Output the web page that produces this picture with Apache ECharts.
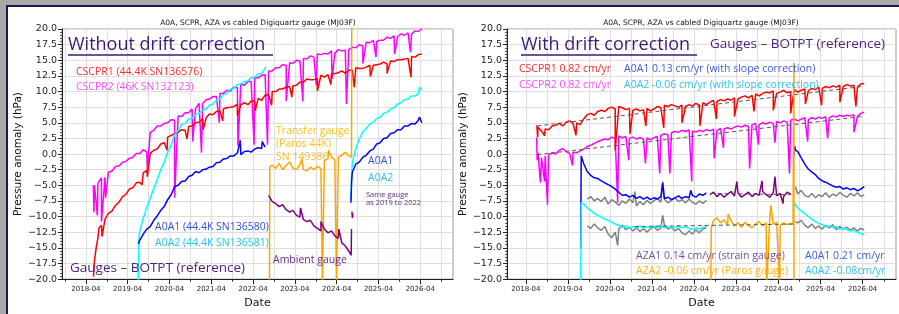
<!DOCTYPE html>
<html>
<head>
<meta charset="utf-8">
<script src="https://cdn.jsdelivr.net/npm/echarts@6/dist/echarts.min.js"></script>
<style>
html,body{margin:0;padding:0;width:899px;height:314px;overflow:hidden;background:#a9a9a9;}
#frame{position:absolute;left:6px;top:5px;right:0;bottom:0;background:#fff;border-left:2px solid #251552;border-top:2px solid #251552;}
#chart{position:absolute;left:0;top:0;width:899px;height:314px;}
</style>
</head>
<body>
<div id="frame"></div>
<div id="chart"></div>
<script>
// ---- tick labels ----
var majorTicks = ['2018-04','2019-04','2020-04','2021-04','2022-04','2023-04','2024-04','2025-04','2026-04'];
var minorTicks = ['2017-10','2018-10','2019-10','2020-10','2021-10','2022-10','2023-10','2024-10','2025-10','2026-10'];

// ---- left panel: without drift correction (monthly values, start month given) ----
var redL_start = '2018-06';
var redL = [-17.0,-13.4,-11.4,-10.4,-9.5,-9.1,-8.2,
  -7.7,-6.8,-6.5,-5.6,-5.4,-4.6,-4.5,-3.0,-2.6,0.1,0.6,0.8,
  1.6,1.8,2.7,3.0,3.2,3.5,3.9,3.8,4.4,4.5,5.0,5.1,
  5.7,5.8,6.4,6.3,6.8,6.9,7.2,7.4,7.5,7.6,8.0,7.9,
  8.2,7.9,8.5,8.5,8.9,8.6,9.4,9.5,10.0,10.0,10.4,10.4,
  10.7,10.8,10.9,11.0,11.5,11.5,12.0,11.9,11.9,12.1,12.6,12.3,
  12.7,12.8,12.9,13.0,13.3,12.9,13.4,13.4,13.8,13.7,13.7,13.9,
  14.2,14.2,14.3,14.4,14.7,14.4,14.9,14.8,15.1,15.1,15.2,15.3,
  15.6,15.5,15.9,16.0];
var redL_spikes = [['2018-06-06',-19.6],['2018-07-01',-14.8],['2018-07-25',-11.8],['2018-08-20',-13.2],
  ['2019-08-05',-4.9],['2019-09-20',-3.6],['2020-03-10',0.6],['2020-09-01',2.4],['2021-01-20',3.9],
  ['2021-07-10',5.3],['2021-11-15',6.1],['2022-04-20',6.9],['2022-09-10',7.8],['2023-03-05',9.1],
  ['2023-10-15',10.1],['2024-02-10',11.1],['2024-09-01',10.7],['2025-01-20',12.4],['2025-06-15',12.9],
  ['2026-01-10',12.3]];

var magL_start = '2018-06';
var magL = [-5.0,-4.6,-3.8,-3.7,-2.9,-2.7,-2.0,
  -1.9,-1.3,-1.2,-0.7,-0.5,0.1,0.1,0.7,0.3,3.5,3.8,4.5,
  4.5,4.9,5.0,5.5,5.4,6.1,6.0,6.6,6.6,7.2,7.3,8.1,
  8.1,8.7,8.8,9.2,9.2,9.7,9.7,10.2,10.1,10.7,10.6,11.2,
  11.0,11.6,11.6,12.2,12.2,12.6,12.7,13.3,13.3,13.8,13.8,14.3,
  14.2,14.6,14.5,15.0,14.9,15.3,15.2,15.7,15.5,16.0,15.9,16.1,
  16.0,16.5,16.1,16.7,16.5,16.6,16.7,17.1,17.0,17.5,17.3,17.9,
  17.8,18.2,18.0,18.2,18.2,18.7,18.5,18.9,18.8,19.2,19.0,19.4,
  19.2,19.7,19.6,20.0];
var magL_spikes = [['2018-06-05',-5.0],['2018-06-10',-9.3],['2018-06-25',-5.2],['2018-07-10',-9.8],
  ['2018-08-15',-10.8],['2018-09-20',-7.0],['2019-09-20',-2.5],['2020-05-15',-7.0],['2020-10-20',2.0],
  ['2021-01-05',0.2],['2021-06-10',5.0],['2021-11-20',1.3],['2022-04-10',1.5],['2022-08-05',1.5],
  ['2023-01-15',8.5],['2023-06-10',8.4],['2023-10-05',11.0],['2024-02-20',12.0],['2024-06-25',8.0],
  ['2024-11-15',14.5],['2025-03-10',15.5],['2025-08-20',16.0],['2026-01-05',16.3]];

var blueL1_start = '2019-07';
var blueL1 = [-13.8,-12.8,-12.0,-11.6,-10.6,-9.9,
  -9.0,-8.4,-7.3,-6.5,-5.2,-5.0,-4.4,-4.3,-3.6,-3.4,-2.8,-3.0,
  -2.5,-2.4,-2.1,-2.0,-1.4,-1.3,-0.8,-0.7,-0.3,-0.3,0.2,-0.1,
  0.4,0.5,0.3,0.8,1.0,0.9,1.1];
var blueL1_spikes = [['2019-07-03',-14.4],['2020-04-01',-7.2],['2021-12-10',2.2],['2022-06-20',2.0]];
var blueL2_start = '2024-08';
var blueL2 = [-2.9,-1.6,-1.3,-0.5,-0.2,
  0.5,0.8,1.6,1.8,2.5,2.6,3.3,3.4,3.9,3.9,4.5,4.5,
  4.9,4.8,5.4,5.0];
var blueL2_spikes = [['2024-08-03',-7.8],['2024-08-09',-4.4],['2026-03-25',5.9]];

var cyanL1_start = '2019-07';
var cyanL1 = [-12.4,-10.3,-8.5,-7.1,-5.5,-4.1,
  -2.5,-1.3,0.3,1.4,3.1,3.8,4.7,4.9,5.6,5.7,6.4,6.5,
  7.0,7.2,7.8,8.0,8.6,8.8,9.5,9.7,10.4,10.5,11.1,11.2,
  11.6,11.7,12.2,12.3,12.8,12.9,13.7];
var cyanL1_spikes = [['2019-07-03',-20.5],['2019-07-06',-14.2],['2022-07-20',14.0]];
var cyanL2_start = '2024-08';
var cyanL2 = [-1.4,0.9,2.4,3.6,4.1,
  4.8,5.1,5.7,5.9,6.5,6.7,7.2,7.4,8.0,8.2,8.7,8.8,
  9.3,9.3,9.7,10.2];
var cyanL2_spikes = [['2024-08-03',-7.3],['2024-08-09',-3.6],['2026-03-25',10.7]];

var transferL_start = '2022-09';
var transferL = [-1.8,-2.3,-1.5,-2.5,
  -1.8,-1.3,-2.2,-2.5,-1.7,-2.4,-2.7,-2.1,-2.5,-2.0,-2.3,-1.0,
  -0.8,-0.5,-0.9,-0.5,-0.2,0.3,-0.3];
var transferL_spikes = [['2022-08-22',-21],['2022-08-25',-2.0],['2023-06-01',-0.8],['2023-11-28',-21],
  ['2024-01-20',0.6],['2024-03-30',-21],['2024-08-08',-0.5],['2024-08-10',21]];

var ambientL_start = '2022-08';
var ambientL = [-6.6,-7.6,-7.9,-8.4,-8.1,
  -8.9,-9.3,-9.0,-9.8,-10.1,-10.5,-10.8,-10.6,-11.5,-11.9,-12.3,-12.0,
  -12.6,-12.3,-13.1,-13.5,-14.2,-14.7,-15.5];
var ambientL_spikes = [['2023-05-20',-8.6],['2023-11-15',-10.8],['2024-04-20',-12.0],['2024-08-05',-16.2],['2024-08-08',-12.0]];
var sameGaugeL = [['2024-08-12',-9.2],['2024-08-16',-10.2],['2024-08-20',-9.5]];

// ---- right panel: with drift correction ----
var redR_start = '2018-07';
var redR = [4.3,3.7,4.0,3.9,4.5,4.6,
  4.9,4.5,5.1,5.3,4.9,5.0,4.7,5.6,6.3,6.5,6.2,6.8,
  7.0,6.8,7.3,7.5,7.2,7.6,7.4,7.1,7.3,7.0,7.2,6.9,
  7.1,7.3,6.9,7.2,7.6,7.4,7.8,7.6,7.9,7.7,7.5,7.8,
  7.6,7.9,7.7,8.1,7.8,8.2,7.9,8.3,8.6,8.4,8.7,8.5,
  8.8,8.6,9.0,8.8,9.1,9.3,9.0,9.4,9.6,9.3,9.7,9.9,
  9.8,10.1,9.7,9.9,10.2,9.8,10.0,10.3,9.9,10.2,10.4,10.1,
  10.5,10.3,10.7,10.5,10.8,10.6,10.9,10.7,11.0,10.8,11.1,10.9,
  11.0,10.7,11.2,11.3];
var redR_spikes = [['2018-07-05',4.6],['2018-07-12',2.7],['2018-09-10',2.9],['2019-06-10',3.0],
  ['2020-05-15',0.6],['2020-09-20',3.2],['2021-02-05',4.5],['2021-07-10',4.2],['2021-12-15',5.0],
  ['2022-05-20',4.5],['2022-10-10',5.6],['2023-03-15',6.0],['2023-09-01',6.8],['2024-02-15',7.0],
  ['2024-07-15',6.5],['2024-11-20',8.0],['2025-04-10',7.8],['2025-09-15',8.3],['2026-02-01',7.6]];

var magR_start = '2018-07';
var magR = [0.2,-0.6,-0.3,-0.1,0.2,0.0,
  0.6,0.9,0.4,0.1,0.3,0.2,0.5,0.8,1.2,1.4,1.7,2.0,
  2.2,2.4,2.3,2.7,2.5,2.9,2.6,2.8,2.5,2.7,2.4,2.6,
  2.4,2.6,2.3,2.6,2.8,3.0,3.2,3.1,3.4,3.6,3.5,3.8,
  3.6,3.9,3.7,3.5,3.8,3.6,3.9,3.7,4.0,3.8,4.1,4.0,
  4.2,4.0,4.3,4.5,4.3,4.6,4.4,4.7,4.9,4.7,5.0,4.8,
  5.1,4.9,5.2,5.0,5.3,5.1,5.4,5.6,5.3,5.6,5.8,5.5,
  5.8,5.6,5.9,5.7,6.0,5.8,6.1,5.9,6.2,6.0,6.2,6.1,
  6.3,6.0,6.5,6.7];
var magR_spikes = [['2018-07-03',2.7],['2018-07-08',-1.0],['2018-08-05',-4.6],['2018-09-10',-4.4],
  ['2018-10-05',-8.1],['2019-05-10',-1.8],['2020-06-05',-7.8],['2020-09-10',-1.0],['2021-02-01',-1.5],
  ['2021-06-05',-3.1],['2021-09-01',-3.1],['2022-03-10',-4.4],['2022-09-20',-0.7],['2022-12-10',1.0],
  ['2023-07-25',-2.3],['2023-10-10',1.5],['2024-03-01',1.8],['2024-07-05',-3.1],['2024-12-10',2.0],
  ['2025-06-01',2.5],['2026-01-15',3.5]];

var redTrend = [['2018-07-10',4.5],['2026-03-25',10.8]];
var magTrend = [['2018-07-10',-0.1],['2026-03-25',6.0]];
var aza1Trend = [['2022-08-20',-6.3],['2024-08-05',-6.5]];
var aza2Trend = [['2020-11-01',-11.6],['2024-08-05',-11.2]];

var blueR1_start = '2019-08';
var blueR1 = [-1.5,-2.8,-3.4,-3.8,-3.9,
  -4.3,-4.6,-4.9,-5.2,-5.6,-6.1,-6.6,-6.5,-6.9,-6.6,-7.1,-6.8,
  -7.2,-6.9,-7.3,-7.0,-7.2,-6.8,-7.1,-6.9,-7.3,-7.0,-6.7,-7.1,
  -6.8,-7.0,-6.6,-6.9,-6.4,-6.6,-6.2];
var blueR1_spikes = [['2019-07-20',-15.0],['2019-07-25',-0.3],['2021-07-01',-4.6],['2022-03-01',-5.8]];
var blueR2_start = '2024-09';
var blueR2 = [0.4,-0.6,-1.6,-2.4,
  -2.9,-3.3,-3.9,-4.3,-4.5,-4.8,-5.1,-5.3,-5.2,-5.6,-5.4,-5.7,
  -5.5,-5.9,-5.6,-5.2];
var blueR2_spikes = [['2024-08-08',-0.6],['2024-08-18',1.3],['2024-08-28',0.6]];

var cyanR1_start = '2019-08';
var cyanR1 = [-8.0,-8.6,-9.0,-9.5,-9.8,
  -10.1,-10.4,-10.6,-10.9,-11.2,-11.4,-11.7,-11.5,-11.9,-11.6,-11.8,-11.5,
  -11.9,-11.6,-11.8,-11.5,-11.7,-11.4,-11.8,-11.6,-11.9,-11.7,-11.5,-11.8,
  -11.6,-11.9,-12.1,-11.8,-12.0,-11.7,-11.6];
var cyanR1_spikes = [['2019-07-20',-20.5],['2019-07-25',-7.8]];
var cyanR2_start = '2024-09';
var cyanR2 = [-8.6,-9.1,-9.5,-10.0,
  -10.4,-10.8,-11.1,-11.3,-11.6,-11.5,-11.8,-11.6,-12.0,-11.8,-12.1,-12.3,
  -12.2,-12.5,-12.7,-12.9];
var cyanR2_spikes = [['2024-08-08',-9.0],['2024-08-18',-7.8],['2024-08-28',-8.2]];

var grayHiR1_start = '2019-09';
var grayHiR1 = [-7.2,-6.8,-7.5,-7.1,
  -7.6,-6.9,-8.0,-7.3,-7.7,-8.2,-7.5,-7.9,-7.2,-7.8,-8.3,-7.6,
  -8.1,-7.4,-7.9,-7.5,-7.1,-7.7,-7.2,-7.8,-7.4,-7.0,-7.6,-7.3,
  -7.8,-7.2,-7.7,-8.0,-7.5,-7.9,-7.4];
var grayHiR1_spikes = [['2020-11-01',-6.0],['2021-07-01',-4.4]];
var grayHiR2_start = '2024-09';
var grayHiR2 = [-6.4,-5.8,-6.6,-6.9,
  -6.3,-7.0,-6.5,-6.8,-6.2,-6.9,-6.4,-6.7,-6.1,-6.6,-6.9,-6.3,
  -6.7,-6.2,-6.8,-6.5];
var grayHiR2_spikes = [['2024-08-25',-5.2]];

var grayLoR1_start = '2019-09';
var grayLoR1 = [-11.5,-11.9,-11.2,-11.8,
  -12.2,-11.6,-12.8,-13.4,-12.5,-12.0,-11.4,-12.1,-11.7,-12.3,-11.8,-12.4,
  -11.9,-12.5,-12.0,-11.6,-12.2,-11.8,-11.3,-12.0,-11.7,-12.3,-11.9,-12.6,
  -12.9,-12.3,-12.8,-12.1,-12.6,-12.0,-11.8];
var grayLoR1_spikes = [['2020-06-05',-14.6],['2021-07-01',-9.8]];
var grayLoR2_start = '2024-09';
var grayLoR2 = [-11.0,-10.6,-11.4,-11.8,
  -11.2,-11.9,-11.5,-12.0,-11.4,-11.8,-11.3,-12.1,-11.6,-12.0,-11.7,-12.2,
  -11.8,-12.3,-11.9,-12.1];
var grayLoR2_spikes = [['2024-08-25',-10.8]];

var aza1R_start = '2022-08';
var aza1R = [-6.5,-6.1,-6.8,-6.3,-6.9,
  -6.4,-6.0,-6.7,-6.2,-6.9,-6.5,-6.1,-6.8,-6.3,-6.6,-6.0,-6.5,
  -6.9,-6.2,-6.7,-6.3,-6.8,-6.1,-6.4];
var aza1R_spikes = [['2023-04-05',-4.4],['2023-11-10',-4.3],['2024-03-01',-3.6],['2024-05-10',-7.9]];

var aza2R_start = '2022-09';
var aza2R = [-10.6,-10.2,-11.0,-10.5,
  -11.3,-10.7,-11.5,-11.0,-11.7,-10.9,-11.4,-11.8,-11.2,-10.8,-11.5,-11.0,
  -10.6,-11.2,-10.9,-11.4,-11.0,-11.3,-11.1];
var aza2R_spikes = [['2022-08-22',-21],['2022-08-26',-11.8],['2023-01-20',-9.6],['2023-12-20',-21],
  ['2024-01-25',-8.2],['2024-04-10',-21],['2024-08-05',-11.2],['2024-08-12',14.6],['2024-08-13',-21]];

// ---- helpers ----
function ts(s) {
  var p = s.split('-').map(Number);
  return Date.UTC(p[0], p[1] - 1, p[2] || 1);
}
function merge(start, vals, extra) {
  var p = start.split('-').map(Number);
  var out = vals.map(function (v, i) { return [Date.UTC(p[0], p[1] - 1 + i, 15), v]; });
  (extra || []).forEach(function (d) { out.push([ts(d[0]), d[1]]); });
  out.sort(function (a, b) { return a[0] - b[0]; });
  return out;
}
function join(a, b) {
  return a.concat([[(a[a.length - 1][0] + b[0][0]) / 2, null]], b);
}
function pad(n) { return n < 10 ? '0' + n : '' + n; }

var majorVals = majorTicks.map(ts);
var allVals = majorTicks.concat(minorTicks).map(ts).sort(function (a, b) { return a - b; });

var axisFont = 'DejaVu Sans';
var noteFont = 'Open Sans';

function xAxes(gi, min, max) {
  return [{
    type: 'value', gridIndex: gi, min: min, max: max,
    axisLine: { onZero: false, lineStyle: { color: '#222' } },
    axisTick: { customValues: allVals, length: 2.5, lineStyle: { color: '#222' } },
    axisLabel: {
      customValues: majorVals, fontSize: 7, fontFamily: axisFont, color: '#222', margin: 7,
      formatter: function (v) { var d = new Date(v); return d.getUTCFullYear() + '-' + pad(d.getUTCMonth() + 1); }
    },
    splitLine: { show: true, lineStyle: { color: '#dedede', width: 1 } },
    name: 'Date', nameLocation: 'middle', nameGap: 15,
    nameTextStyle: { fontSize: 11, fontFamily: axisFont, color: '#111' }
  }, {
    type: 'value', gridIndex: gi, min: min, max: max, position: 'bottom',
    axisLine: { show: false, onZero: false },
    axisTick: { customValues: majorVals, length: 5, lineStyle: { color: '#222' } },
    axisLabel: { show: false },
    splitLine: { show: false }
  }];
}
function yAxis(gi) {
  return {
    type: 'value', gridIndex: gi, min: -20, max: 20, interval: 2.5,
    axisLine: { show: true, onZero: false, lineStyle: { color: '#222' } },
    axisTick: { show: true, length: 4, lineStyle: { color: '#222' } },
    minorTick: { show: true, splitNumber: 5, length: 2, lineStyle: { color: '#555' } },
    axisLabel: {
      fontSize: 9.5, fontFamily: axisFont, color: '#222', margin: 5,
      formatter: function (v) { return (v < 0 ? '\u2212' : '') + Math.abs(v).toFixed(1); }
    },
    splitLine: { show: true, lineStyle: { color: '#dedede' } },
    name: 'Pressure anomaly (hPa)', nameLocation: 'middle', nameGap: 38,
    nameTextStyle: { fontSize: 10.5, fontFamily: axisFont, color: '#111' }
  };
}
function line(data, color, xi, yi, z, dashed) {
  return {
    type: 'line', xAxisIndex: xi, yAxisIndex: yi, data: data,
    showSymbol: false, symbol: 'none', connectNulls: false, silent: true, z: z || 2,
    lineStyle: { color: color, width: dashed ? 1 : 1.5, type: dashed ? [4, 3] : 'solid' },
    itemStyle: { color: color }
  };
}
function pts(list) { return list.map(function (d) { return [ts(d[0]), d[1]]; }); }

function txt(x, y, s, color, size, extra) {
  var st = { text: s, fill: color, fontSize: size, fontFamily: noteFont, verticalAlign: 'middle' };
  if (extra) for (var k in extra) st[k] = extra[k];
  return { type: 'text', x: x, y: y, z: 50, silent: true, style: st };
}
function uline(x1, x2, y, color) {
  return { type: 'line', z: 50, silent: true, shape: { x1: x1, y1: y, x2: x2, y2: y }, style: { stroke: color, lineWidth: 1.6 } };
}

var RED = '#ff0000', MAG = '#ff00ff', BLUE = '#0000ff', CYAN = '#00ffff',
    ORANGE = '#ffa500', PURPLE = '#800080', GRAY = '#808080', TREND = '#555555';

var chart = echarts.init(document.getElementById('chart'), null, { renderer: 'canvas' });
var option = {
  animation: false,
  backgroundColor: 'transparent',
  grid: [
    { left: 62, top: 29, width: 391, height: 253, show: true, borderColor: '#9a9a9a', borderWidth: 1 },
    { left: 507, top: 29, width: 389, height: 253, show: true, borderColor: '#9a9a9a', borderWidth: 1 }
  ],
  xAxis: xAxes(0, Date.UTC(2017, 8, 4), Date.UTC(2027, 0, 12))
    .concat(xAxes(1, Date.UTC(2017, 9, 19), Date.UTC(2027, 0, 15))),
  yAxis: [yAxis(0), yAxis(1)],
  series: [
    // left
    line(merge(magL_start, magL, magL_spikes), MAG, 0, 0, 2),
    line(merge(redL_start, redL, redL_spikes), RED, 0, 0, 3),
    line(join(merge(cyanL1_start, cyanL1, cyanL1_spikes), merge(cyanL2_start, cyanL2, cyanL2_spikes)), CYAN, 0, 0, 4),
    line(join(merge(blueL1_start, blueL1, blueL1_spikes), merge(blueL2_start, blueL2, blueL2_spikes)), BLUE, 0, 0, 5),
    line(merge(transferL_start, transferL, transferL_spikes), ORANGE, 0, 0, 6),
    line(merge(ambientL_start, ambientL, ambientL_spikes), PURPLE, 0, 0, 7),
    line(pts(sameGaugeL), PURPLE, 0, 0, 7),
    // right
    line(merge(magR_start, magR, magR_spikes), MAG, 2, 1, 2),
    line(merge(redR_start, redR, redR_spikes), RED, 2, 1, 3),
    line(join(merge(grayHiR1_start, grayHiR1, grayHiR1_spikes), merge(grayHiR2_start, grayHiR2, grayHiR2_spikes)), GRAY, 2, 1, 4),
    line(join(merge(grayLoR1_start, grayLoR1, grayLoR1_spikes), merge(grayLoR2_start, grayLoR2, grayLoR2_spikes)), GRAY, 2, 1, 4),
    line(join(merge(blueR1_start, blueR1, blueR1_spikes), merge(blueR2_start, blueR2, blueR2_spikes)), BLUE, 2, 1, 5),
    line(join(merge(cyanR1_start, cyanR1, cyanR1_spikes), merge(cyanR2_start, cyanR2, cyanR2_spikes)), CYAN, 2, 1, 5),
    line(merge(aza1R_start, aza1R, aza1R_spikes), PURPLE, 2, 1, 6),
    line(merge(aza2R_start, aza2R, aza2R_spikes), ORANGE, 2, 1, 6),
    line(pts(redTrend), TREND, 2, 1, 8, true),
    line(pts(magTrend), TREND, 2, 1, 8, true),
    line(pts(aza1Trend), TREND, 2, 1, 8, true),
    line(pts(aza2Trend), TREND, 2, 1, 8, true)
  ],
  graphic: [
    txt(258, 23, 'A0A, SCPR, AZA vs cabled Digiquartz gauge (MJ03F)', '#111', 7.5, { fontFamily: axisFont, align: 'center' }),
    txt(701, 23, 'A0A, SCPR, AZA vs cabled Digiquartz gauge (MJ03F)', '#111', 7.5, { fontFamily: axisFont, align: 'center' }),
    // left notes
    txt(68, 45, 'Without drift correction', '#3b1a75', 18),
    uline(68, 273, 55, '#3b1a75'),
    txt(76, 72, 'CSCPR1 (44.4K SN136576)', '#ff2a2a', 10.5),
    txt(76, 87, 'CSCPR2 (46K SN132123)', '#ff4dff', 10.5),
    txt(276, 144, 'Transfer gauge\n(Paros 44K)\nSN 149386', '#ffbf1f', 10.5, { lineHeight: 13 }),
    txt(368, 161, 'A0A1', '#3050e8', 10.5),
    txt(368, 178, 'A0A2', '#22c4f0', 10.5),
    txt(366, 199, 'Same gauge\nas 2019 to 2022', '#5a2d82', 7.5, { lineHeight: 8 }),
    txt(155, 227, 'A0A1 (44.4K SN136580)', '#3050e8', 10.5),
    txt(155, 243, 'A0A2 (44.4K SN136581)', '#22c4f0', 10.5),
    txt(273, 260, 'Ambient gauge', '#6b2b8c', 10.5),
    txt(70, 268, 'Gauges \u2013 BOTPT (reference)', '#4b2483', 13.5),
    // right notes
    txt(521, 45, 'With drift correction', '#3b1a75', 18),
    uline(521, 697, 55, '#3b1a75'),
    txt(710, 44, 'Gauges \u2013 BOTPT (reference)', '#4b2483', 13.5),
    txt(519, 69, 'CSCPR1 0.82 cm/yr', '#ff2a2a', 10.5),
    txt(519, 85, 'CSCPR2 0.82 cm/yr', '#ff4dff', 10.5),
    txt(624, 69, 'A0A1 0.13 cm/yr (with slope correction)', '#3a5ee0', 10.5),
    txt(624, 85, 'A0A2 -0.06 cm/yr (with slope correction)', '#30c0f0', 10.5),
    txt(636, 256, 'AZA1 0.14 cm/yr (strain gauge)', '#7b4f9d', 10.5),
    txt(636, 271, 'AZA2 -0.06 cm/yr (Paros gauge)', '#ffb21a', 10.5),
    txt(805, 256, 'A0A1 0.21 cm/yr', '#3a5ee0', 10.5),
    txt(805, 271, 'A0A2 -0.08cm/yr', '#30c0f0', 10.5)
  ]
};
chart.setOption(option);
</script>
</body>
</html>
